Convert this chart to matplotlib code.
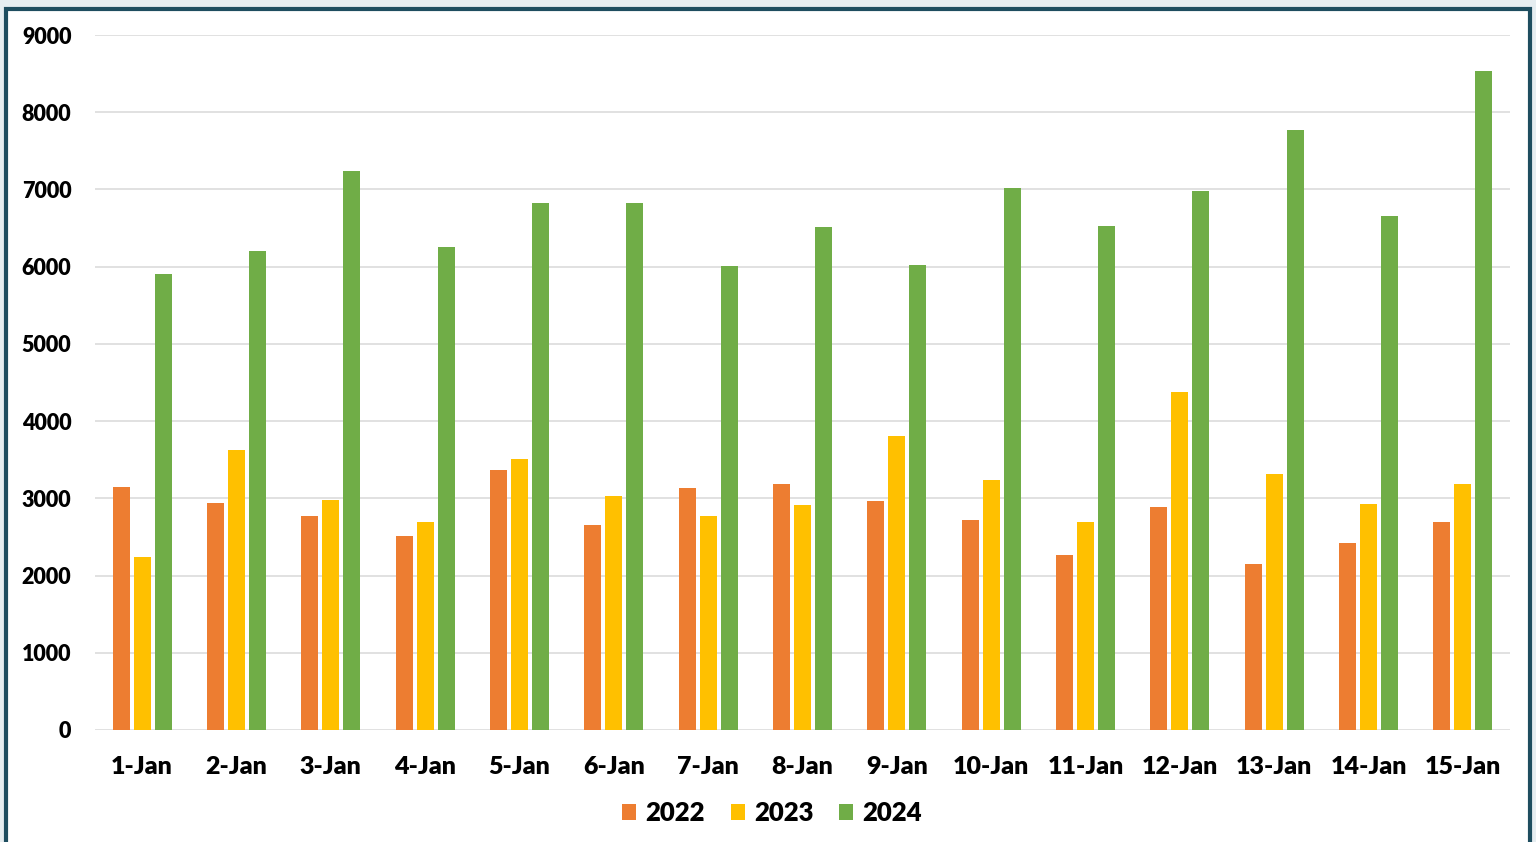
import numpy as np
import matplotlib.pyplot as plt
from matplotlib.patches import Rectangle

plt.rcParams['font.family'] = ['Lato', 'DejaVu Sans']
plt.rcParams['font.weight'] = 'heavy'

#<---------------------Datos-------------------------->
days = ["1-Jan", "2-Jan", "3-Jan", "4-Jan", "5-Jan", "6-Jan", "7-Jan", "8-Jan",
        "9-Jan", "10-Jan", "11-Jan", "12-Jan", "13-Jan", "14-Jan", "15-Jan"]
y2022 = [3150, 2940, 2770, 2510, 3370, 2650, 3140, 3190, 2960, 2720, 2270, 2890, 2150, 2420, 2700]
y2023 = [2240, 3630, 2980, 2690, 3510, 3030, 2770, 2910, 3810, 3240, 2700, 4380, 3320, 2930, 3190]
y2024 = [5910, 6200, 7240, 6250, 6820, 6820, 6010, 6520, 6020, 7020, 6530, 6980, 7770, 6660, 8540]
years = ["2022", "2023", "2024"]
colors = ["#ED7D31", "#FFC000", "#70AD47"]

W, H = 1536, 842
fig = plt.figure(figsize=(W/100, H/100), dpi=100, facecolor="#E6EDF0")
# marco
fig.patches.append(Rectangle((6/W, -0.05), 1524/W, 1.05 - 9/H, transform=fig.transFigure,
                             facecolor="white", edgecolor="#1E4D5F", linewidth=3, zorder=-5))

ax = fig.add_axes([95/W, 1 - 730/H, 1415/W, 695/H])
ax.set_zorder(2)
ax.set_facecolor("none")
x = np.arange(len(days))
off = 0.223; w = 0.18
for i, (vals, yr, c) in enumerate(zip([y2022, y2023, y2024], years, colors)):
    ax.bar(x + (i - 1)*off, vals, width=w, color=c, label=yr, zorder=3)

ax.set_xlim(-0.5, 14.5)
ax.set_ylim(0, 9000)
ax.set_yticks(np.arange(0, 9001, 1000))
ax.grid(axis="y", color="#D9D9D9", linewidth=1.1, zorder=0)
for s in ["top", "right", "left", "bottom"]:
    ax.spines[s].set_visible(False)
ax.tick_params(axis="y", length=0, pad=17, labelsize=15.5)
ax.tick_params(axis="x", length=0, pad=19, labelsize=18)
ax.set_xticks(x)
ax.set_xticklabels(days)

leg = fig.legend(loc="center", bbox_to_anchor=(772/W, 1 - 813/H), ncol=3, frameon=False,
                 fontsize=18.5, handlelength=0.55, handleheight=0.55, handletextpad=0.35,
                 columnspacing=1.0)
leg.set_zorder(3)

plt.savefig("out.png", dpi=100, facecolor=fig.get_facecolor())
